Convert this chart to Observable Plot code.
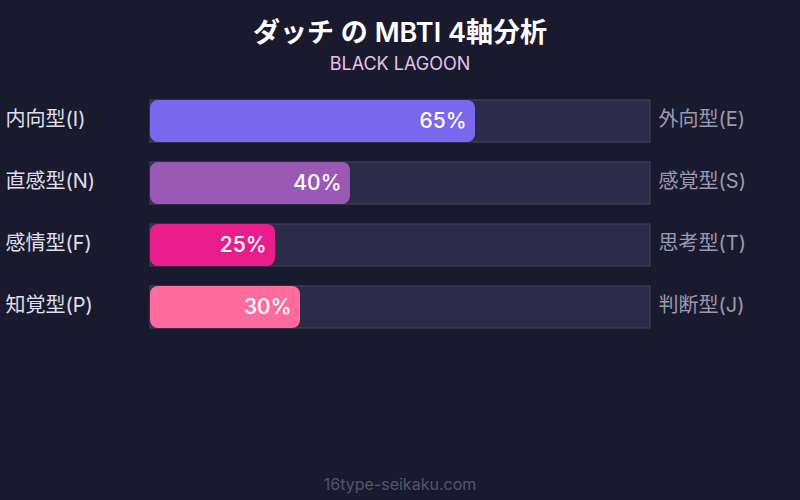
<!DOCTYPE html>
<html><head><meta charset="utf-8">
<script src="https://cdn.jsdelivr.net/npm/d3@7"></script>
<script src="https://cdn.jsdelivr.net/npm/@observablehq/plot@0.6"></script>
<style>
html,body{margin:0;padding:0;background:#1a1a2e;width:800px;height:500px;overflow:hidden;font-family:Inter,"Noto Sans CJK JP",sans-serif;}
#head{height:80px;position:relative;}
#title{position:absolute;top:14px;left:0;width:800px;text-align:center;color:#fff;font-size:27px;font-weight:600;line-height:38px;}
#sub{position:absolute;top:52px;left:0;width:800px;text-align:center;color:#e6c3e6;font-size:18px;line-height:24px;}
#foot{position:absolute;top:473px;left:0;width:800px;text-align:center;color:#55556e;font-size:16px;line-height:22px;}
#chart svg{display:block;}
</style></head>
<body>
<div id="head"><div id="title">ダッチ の MBTI 4軸分析</div><div id="sub">BLACK LAGOON</div></div>
<div id="chart"></div>
<div id="foot">16type-seikaku.com</div>
<script>
const axes = ["IE", "NS", "FT", "PJ"];
const leftLabels = ["内向型(I)", "直感型(N)", "感情型(F)", "知覚型(P)"];
const rightLabels = ["外向型(E)", "感覚型(S)", "思考型(T)", "判断型(J)"];
const values = [65, 40, 25, 30];
const colors = ["#7b68ee", "#9b59b6", "#e91e8c", "#ff6b9d"];

const data = axes.map((a, i) => ({axis: a, left: leftLabels[i], right: rightLabels[i], value: values[i], color: colors[i]}));

const chart = Plot.plot({
  width: 800,
  height: 340,
  marginLeft: 150,
  marginRight: 150,
  marginTop: 0,
  marginBottom: 72,
  style: {background: "transparent", fontFamily: 'Inter, "Noto Sans CJK JP", sans-serif'},
  x: {domain: [0, 100], axis: null},
  y: {domain: axes, range: [0, 268], padding: 20 / 62, axis: null},
  marks: [
    Plot.barX(data, {y: "axis", x1: 0, x2: 100, fill: "#2d2b4a", stroke: "#45456a", strokeWidth: 1}),
    Plot.barX(data, {y: "axis", x1: 0, x2: "value", fill: "color", rx: 8}),
    Plot.text(data, {y: "axis", x: "value", text: d => d.value + "%", dx: -9, textAnchor: "end", fill: "#fff", fontSize: 21, fontWeight: 500}),
    Plot.text(data, {y: "axis", x: 0, text: "left", dx: -145, dy: -2, textAnchor: "start", fill: "#e0e0ea", fontSize: 20}),
    Plot.text(data, {y: "axis", x: 100, text: "right", dx: 8, dy: -2, textAnchor: "start", fill: "#9a9aae", fontSize: 20})
  ]
});
document.getElementById("chart").appendChild(chart);
</script>
</body></html>
